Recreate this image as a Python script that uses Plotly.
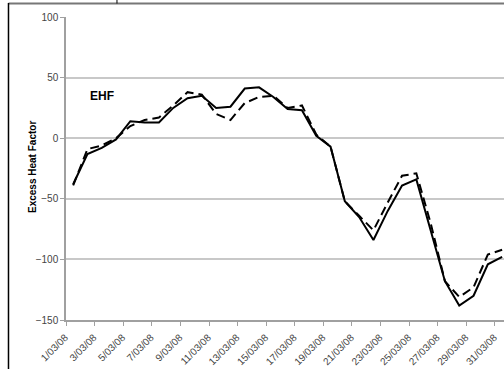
import plotly.graph_objects as go

days = list(range(1, 32))
tick_days = days[::2]
tick_labels = [f"{d}/03/08" for d in tick_days]

ehf_solid = [-38, -13, -8, -1, 14, 13, 13, 25, 33, 35, 25, 26, 41, 42, 34, 24,
             23, 2, -7, -52, -65, -84, -60, -39, -34, -76, -118, -138, -130, -104, -98]
ehf_dashed = [-39, -9, -6, 0, 10, 15, 17, 27, 38, 36, 20, 15, 29, 34, 35, 25,
              27, 3, -7, -52, -64, -76, -53, -31, -29, -70, -118, -131, -123, -96, -92]

font_family = "Liberation Sans, Arial, sans-serif"

fig = go.Figure()
fig.add_trace(go.Scatter(x=days, y=ehf_dashed, mode="lines", name="dashed",
                         line=dict(color="black", width=2, dash="9px,5px")))
fig.add_trace(go.Scatter(x=days, y=ehf_solid, mode="lines", name="solid",
                         line=dict(color="black", width=2)))

fig.update_layout(
    width=504, height=369,
    margin=dict(l=66, r=0, t=17, b=49, autoexpand=False),
    paper_bgcolor="white", plot_bgcolor="white",
    showlegend=False,
    font=dict(family=font_family, size=10, color="#333"),
    xaxis=dict(
        range=[0.5, 31.13], automargin=False,
        tickmode="array", tickvals=tick_days, ticktext=tick_labels,
        tickangle=-45, ticks="", showgrid=False, ticklabeloverflow="allow",
        ticklabelshift=-8, ticklabelstandoff=6,
        showline=True, linecolor="#a0a0a0", linewidth=1.5,
        tickfont=dict(size=10, color="#444"),
        minor=dict(tickmode="array", tickvals=[d - 0.5 for d in tick_days],
                   ticks="outside", ticklen=4, tickcolor="#a0a0a0", tickwidth=1,
                   showgrid=False),
        zeroline=False,
    ),
    yaxis=dict(
        range=[-150, 100], tickmode="linear", tick0=-150, dtick=50,
        automargin=False,
        ticks="outside", ticklen=4, tickcolor="#a0a0a0",
        showgrid=True, gridcolor="#c8c8c8", gridwidth=1.5,
        showline=True, linecolor="#a0a0a0", linewidth=1.5,
        zeroline=False,
        tickfont=dict(size=10, color="#444"),
    ),
    annotations=[
        dict(x=3, y=35, xref="x", yref="y", text="<b>EHF</b>",
             showarrow=False, font=dict(size=12, color="black")),
        dict(x=-33 / 438, y=0.505, xref="paper", yref="paper",
             text="<b>Excess Heat Factor</b>", textangle=-90,
             xanchor="center", yanchor="middle",
             showarrow=False, font=dict(size=10, color="black")),
    ],
    shapes=[
        dict(type="line", xref="paper", yref="paper", x0=-0.1313, x1=1.0,
             y0=1.0 + 13.5 / 303, y1=1.0 + 13.5 / 303,
             line=dict(color="#777", width=2)),
        dict(type="line", xref="paper", yref="paper", x0=-0.1313, x1=-0.1313,
             y0=-49 / 303, y1=1.0 + 14 / 303, line=dict(color="black", width=1.5)),
        dict(type="line", xref="paper", yref="paper", x0=0.1164, x1=0.1164,
             y0=1.0 + 13.5 / 303, y1=1.0 + 17 / 303, line=dict(color="black", width=1)),
    ],
)

fig.write_html("out.html", config={"displayModeBar": False},
               post_script="document.body.style.margin='0';document.body.style.padding='0';")
